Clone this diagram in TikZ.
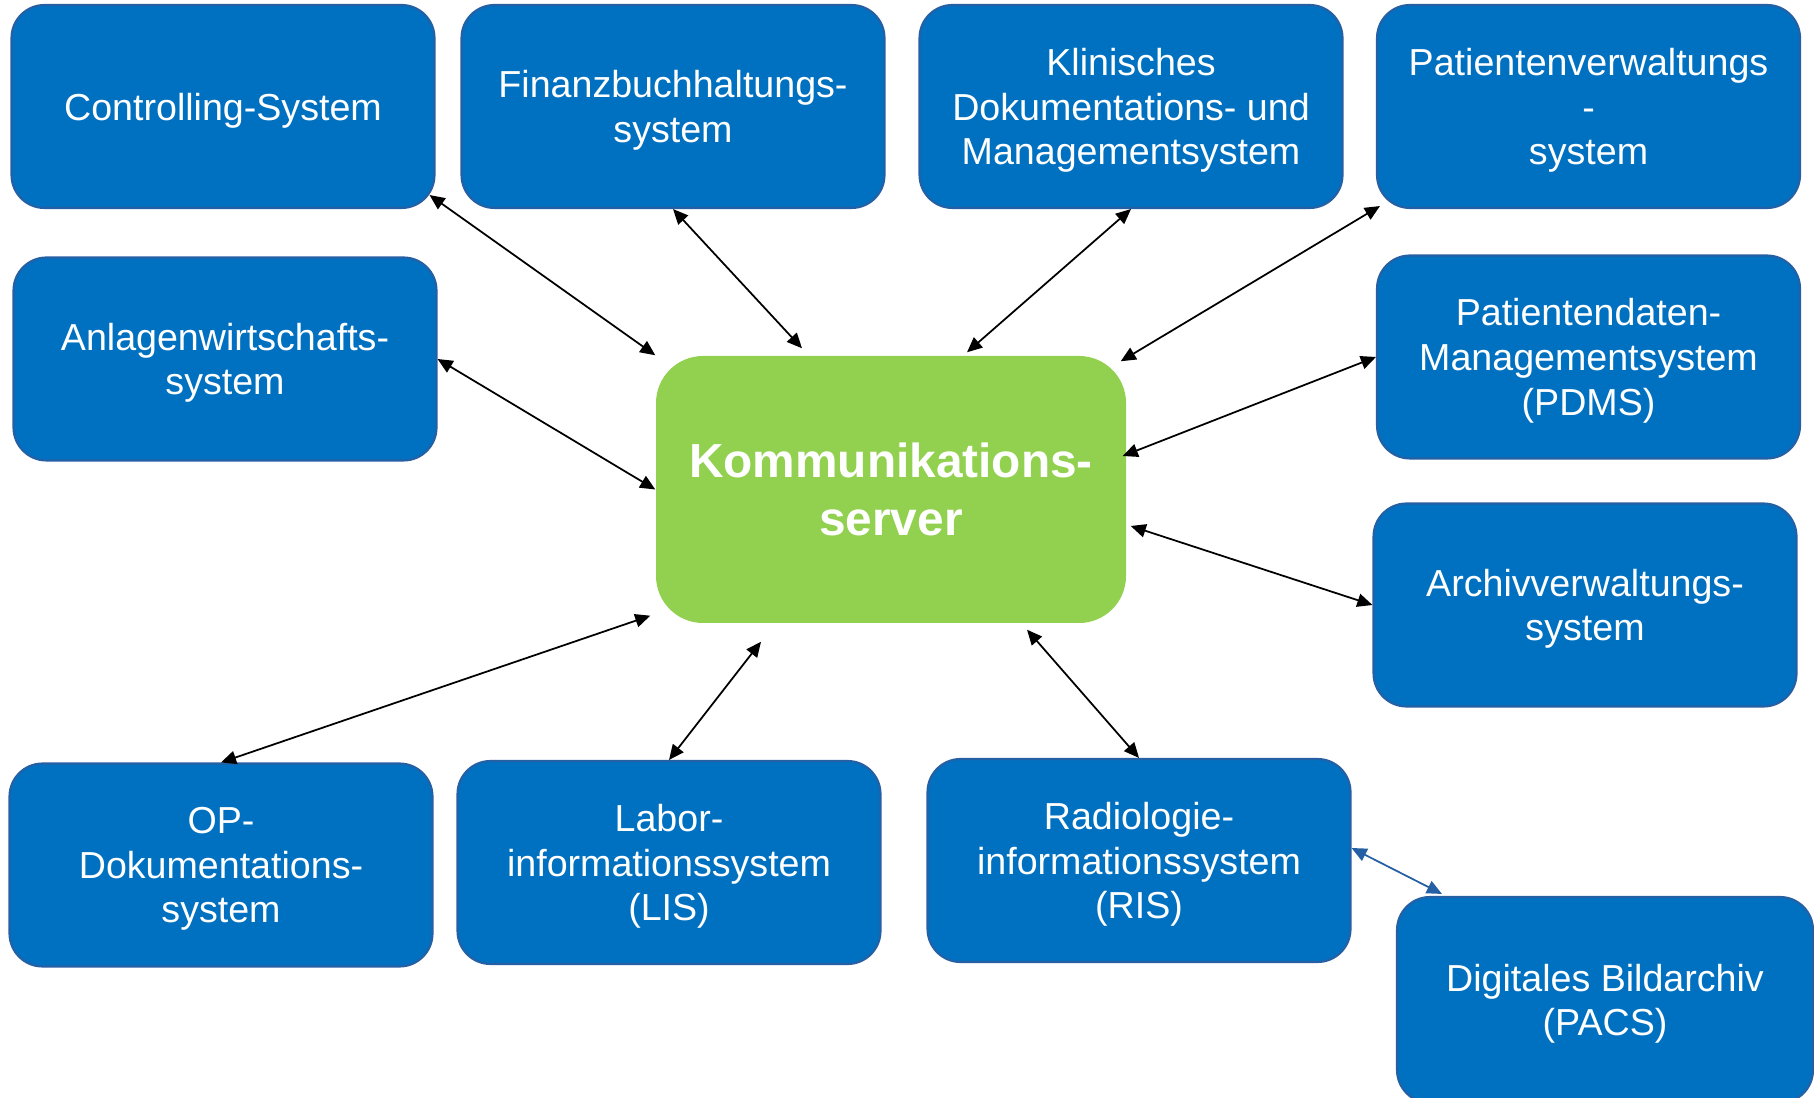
\documentclass[tikz,border=0pt]{standalone}
\usepackage{fontspec}
\setmainfont{Liberation Sans}
\usetikzlibrary{arrows.meta,positioning}

\definecolor{boxblue}{HTML}{0070C0}
\definecolor{boxline}{HTML}{2660A4}
\definecolor{hubgreen}{HTML}{92D050}

\begin{document}
\begin{tikzpicture}[
    sysbox/.style={draw=boxline, line width=0.6pt, fill=boxblue, rounded corners=0.33cm,
      minimum width=4.23cm, minimum height=2.03cm, inner sep=0pt, text=white, align=center,
      font=\fontsize{10.7}{12.7}\selectfont, text depth=-0.4pt},
    hub/.style={fill=hubgreen, rounded corners=0.47cm, minimum width=4.7cm, minimum height=2.67cm,
      inner sep=0pt, text=white, align=center, font=\fontsize{13.6}{16.5}\selectfont\bfseries,
      text depth=-1.3pt},
    link/.style={line width=0.5pt, {Triangle[length=4.3pt,width=3.8pt]}-{Triangle[length=4.3pt,width=3.8pt]}}]
    \useasboundingbox (0,0) rectangle (18.14,10.97);

    % Top row
    \node[sysbox] (ctrl) at (2.23,9.905) {Controlling-System};
    \node[sysbox] (fibu) at (6.73,9.905) {Finanzbuchhaltungs-\\system};
    \node[sysbox] (kdms) at (11.31,9.905) {Klinisches\\Dokumentations- und\\Managementsystem};
    \node[sysbox] (pvs) at (15.885,9.905) {Patientenverwaltungs\\-\\system};

    % Middle
    \node[sysbox] (anl) at (2.25,7.38) {Anlagenwirtschafts-\\system};
    \node[sysbox] (pdms) at (15.885,7.40) {Patientendaten-\\Managementsystem\\(PDMS)};
    \node[sysbox] (arch) at (15.85,4.92) {Archivverwaltungs-\\system};
    \node[hub] (srv) at (8.91,6.075) {Kommunikations-\\server};

    % Bottom row
    \node[sysbox] (op) at (2.21,2.32) {OP-\\Dokumentations-\\system};
    \node[sysbox] (lis) at (6.69,2.345) {Labor-\\informationssystem\\(LIS)};
    \node[sysbox] (ris) at (11.39,2.365) {Radiologie-\\informationssystem\\(RIS)};
    \node[sysbox, minimum width=4.16cm, minimum height=2.06cm] (pacs) at (16.05,0.97) {Digitales Bildarchiv\\(PACS)};

    % Connections to the server
    \draw[link] ([shift={(-0.06,0.14)}]ctrl.south east) -- (srv.north west);
    \draw[link] (fibu.south) -- ([shift={(-0.89,0.07)}]srv.north);
    \draw[link] (kdms.south) -- ([shift={(0.76,0.03)}]srv.north);
    \draw[link] ([shift={(0.04,0.03)}]pvs.south west) -- ([shift={(-0.06,-0.06)}]srv.north east);
    \draw[link] (anl.east) -- (srv.west);
    \draw[link] (pdms.west) -- ([shift={(-0.04,0.335)}]srv.east);
    \draw[link] (arch.west) -- ([shift={(0.04,-0.365)}]srv.east);
    \draw[link] (op.north) -- ([shift={(-0.05,0.08)}]srv.south west);
    \draw[link] (lis.north) -- ([shift={(-1.30,-0.18)}]srv.south);
    \draw[link] (ris.north) -- ([shift={(1.36,-0.06)}]srv.south);

    % RIS to PACS
    \draw[link, draw=boxline, fill=boxline] ([yshift=0.125cm]ris.east) -- ([shift={(0.46,0.02)}]pacs.north west);
\end{tikzpicture}
\end{document}
